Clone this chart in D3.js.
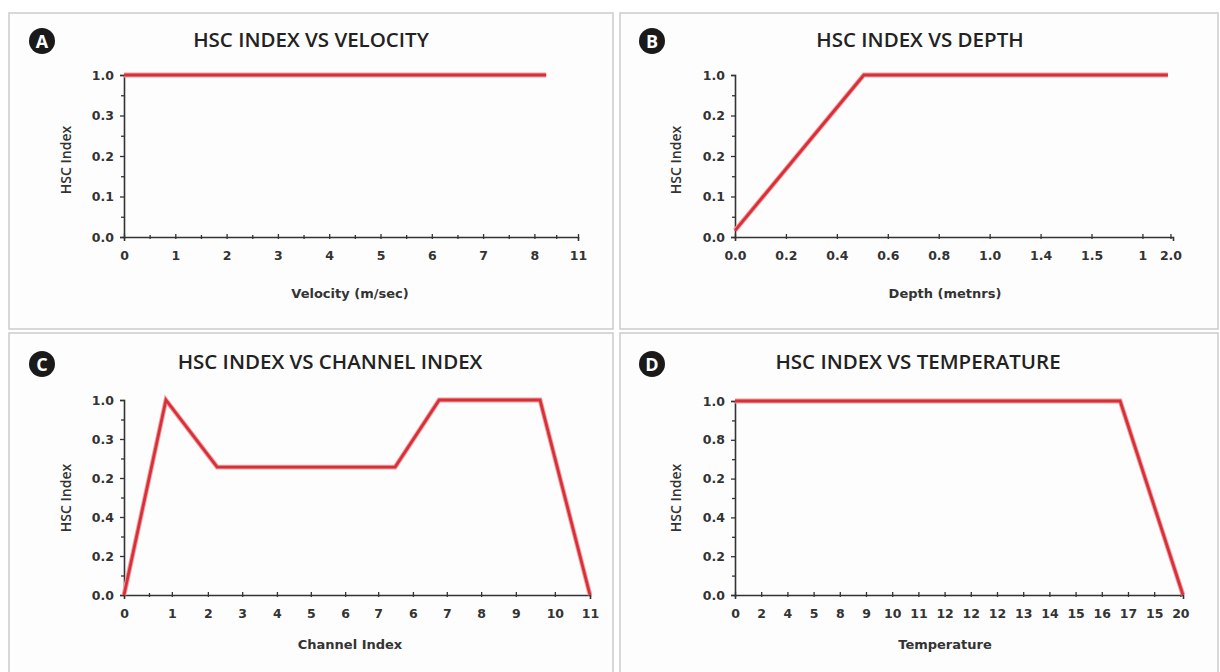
<!DOCTYPE html>
<html><head><meta charset="utf-8">
<script src="https://cdn.jsdelivr.net/npm/d3@7"></script>
<style>body{margin:0;background:#fff;}svg{display:block;}</style>
</head><body>
<svg id="c" width="1220" height="672"></svg>
<script>
// ---------- Data ----------
// Panel A: HSC index vs velocity
const velX = [0, 8.23];
const velY = [1, 1];
const velTicks = [0,1,2,3,4,5,6,7,8,8.85];
const velTickLabels = ["0","1","2","3","4","5","6","7","8","11"];
const velYTickLabels = ["0.0","0.1","0.2","0.3","1.0"];

// Panel B: HSC index vs depth
const depthX = [0, 2.53, 8.5];
const depthY = [0.04, 1, 1];
const depthTicks = [0,1,2,3,4,5,6,7,8,8.55];
const depthTickLabels = ["0.0","0.2","0.4","0.6","0.8","1.0","1.4","1.5","1","2.0"];
const depthYTickLabels = ["0.0","0.1","0.2","0.2","1.0"];

// Panel C: HSC index vs channel index
const chX = [0, 0.99, 2.2, 6.4, 7.44, 9.82, 11.0];
const chY = [0, 1, 0.656, 0.656, 1, 1, 0];
const chTicks = [0,1.13,1.98,2.79,3.61,4.41,5.22,6.0,6.82,7.62,8.43,9.25,10.17,11.0];
const chTickLabels = ["0","1","2","3","4","5","6","7","6","7","8","9","10","11"];
const chYTickLabels = ["0.0","0.2","0.4","0.2","0.3","1.0"];

// Panel D: HSC index vs temperature
const tempX = [0, 14.7, 17.1];
const tempY = [1, 1, 0];
const tempTicks = d3.range(0,18);
const tempTickLabels = ["0","2","4","5","8","9","10","11","12","12","12","13","14","15","16","17","15","20"];
const tempYTickLabels = ["0.0","0.2","0.4","0.2","0.8","1.0"];

const titles = ["HSC INDEX VS VELOCITY","HSC INDEX VS DEPTH","HSC INDEX VS CHANNEL INDEX","HSC INDEX VS TEMPERATURE"];
const badges = ["A","B","C","D"];
const xTitles = ["Velocity (m/sec)","Depth (metnrs)","Channel Index","Temperature"];

// ---------- Layout ----------
const svg = d3.select("#c");
const panels = [
  {box:[9,13,604,316], title:[311,40], badge:[42,41], x:[124,578], y:[237,75], xd:[0,8.85],
   xs:velX, ys:velY, xt:velTicks, xl:velTickLabels, yl:velYTickLabels, xMinor:true, xtitle:[350,293], ylab:[71,160]},
  {box:[620,13,598,316], title:[920,40], badge:[652,41], x:[735,1173], y:[237,75], xd:[0,8.6],
   xs:depthX, ys:depthY, xt:depthTicks, xl:depthTickLabels, yl:depthYTickLabels, xMinor:false, xtitle:[945,293], ylab:[681,160]},
  {box:[9,333,604,345], title:[330,362], badge:[42,364], x:[124,590], y:[595,400], xd:[0,11],
   xs:chX, ys:chY, xt:chTicks, xl:chTickLabels, yl:chYTickLabels, xMinor:false, extraMinor:[0.59], xtitle:[350,644], ylab:[71,498]},
  {box:[620,333,598,345], title:[918,362], badge:[652,364], x:[735,1183], y:[595,401], xd:[0,17.1],
   xs:tempX, ys:tempY, xt:tempTicks, xl:tempTickLabels, yl:tempYTickLabels, xMinor:false, xtitle:[945,644], ylab:[681,498]}
];

panels.forEach((p,i)=>{
  const g = svg.append("g");
  g.append("rect").attr("x",p.box[0]).attr("y",p.box[1]).attr("width",p.box[2]).attr("height",p.box[3])
    .attr("fill","#fdfdfd").attr("stroke","#cfcfcf").attr("stroke-width",1.6);
  // badge
  g.append("circle").attr("cx",p.badge[0]).attr("cy",p.badge[1]).attr("r",13).attr("fill","#1a1a1a");
  g.append("text").attr("x",p.badge[0]).attr("y",p.badge[1]+6.5).attr("text-anchor","middle")
    .attr("font-family","Open Sans, sans-serif").attr("font-weight",700).attr("font-size",18).attr("fill","#fff").text(badges[i]);
  // title
  g.append("text").attr("x",p.title[0]).attr("y",p.title[1]+7).attr("text-anchor","middle")
    .attr("font-family","Open Sans, sans-serif").attr("font-weight",600).attr("font-size",20.5).attr("fill","#222").text(titles[i]);

  const x = d3.scaleLinear().domain(p.xd).range(p.x);
  const y = d3.scaleLinear().domain([0,1]).range(p.y);
  const nY = p.yl.length;
  const yTicks = d3.range(nY).map(k=>k/(nY-1));
  const yMinor = d3.range(nY-1).map(k=>(k+0.5)/(nY-1));

  // y axis
  const ya = g.append("g").attr("transform",`translate(${p.x[0]},0)`)
    .call(d3.axisLeft(y).tickValues(yTicks).tickSize(4).tickPadding(6).tickFormat((d,k)=>p.yl[k]));
  ya.selectAll(".tick line").attr("x2",-4).attr("x1",1);
  g.append("g").attr("transform",`translate(${p.x[0]},0)`)
    .call(d3.axisLeft(y).tickValues(yMinor).tickSize(3).tickFormat(""))
    .call(s=>s.select(".domain").remove());
  // x axis
  const xa = g.append("g").attr("transform",`translate(0,${p.y[0]})`)
    .call(d3.axisBottom(x).tickValues(p.xt).tickSize(4).tickPadding(10).tickFormat((d,k)=>p.xl[k]));
  xa.selectAll(".tick line").attr("y1",-3).attr("y2",2);
  let minors = [];
  if (p.xMinor) minors = d3.range(p.xt.length-1).map(k=>(p.xt[k]+p.xt[k+1])/2);
  if (p.extraMinor) minors = minors.concat(p.extraMinor);
  if (minors.length) {
    g.append("g").attr("transform",`translate(0,${p.y[0]})`)
      .call(d3.axisBottom(x).tickValues(minors).tickSize(2).tickFormat(""))
      .call(s=>s.select(".domain").remove())
      .selectAll(".tick line").attr("y1",-2).attr("y2",2);
  }
  [ya,xa].forEach(a=>{
    a.select(".domain").attr("stroke","#333").attr("stroke-width",1.6);
    a.selectAll(".tick text").attr("font-family","DejaVu Sans, Verdana, sans-serif").attr("font-weight",700)
      .attr("font-size",12.5).attr("fill","#333");
  });
  g.selectAll(".tick line").attr("stroke","#333").attr("stroke-width",1.3);

  // axis titles
  g.append("text").attr("x",p.xtitle[0]).attr("y",p.xtitle[1]+4.5).attr("text-anchor","middle")
    .attr("font-family","DejaVu Sans, Verdana, sans-serif").attr("font-weight",700).attr("font-size",13)
    .attr("fill","#333").text(xTitles[i]);
  g.append("text").attr("transform",`translate(${p.ylab[0]},${p.ylab[1]}) rotate(-90)`).attr("text-anchor","middle")
    .attr("font-family","Open Sans, sans-serif").attr("font-weight",600).attr("font-size",14)
    .attr("fill","#333").text("HSC Index");

  // line
  const pts = p.xs.map((v,k)=>[v,p.ys[k]]);
  const line = d3.line().x(d=>x(d[0])).y(d=>y(d[1]));
  g.append("path").datum(pts).attr("d",line).attr("fill","none").attr("stroke","#f2a0a0")
    .attr("stroke-width",4.8).attr("stroke-linejoin","miter");
  g.append("path").datum(pts).attr("d",line).attr("fill","none").attr("stroke","#d8303a")
    .attr("stroke-width",2.8).attr("stroke-linejoin","miter");
});
</script>
</body></html>
